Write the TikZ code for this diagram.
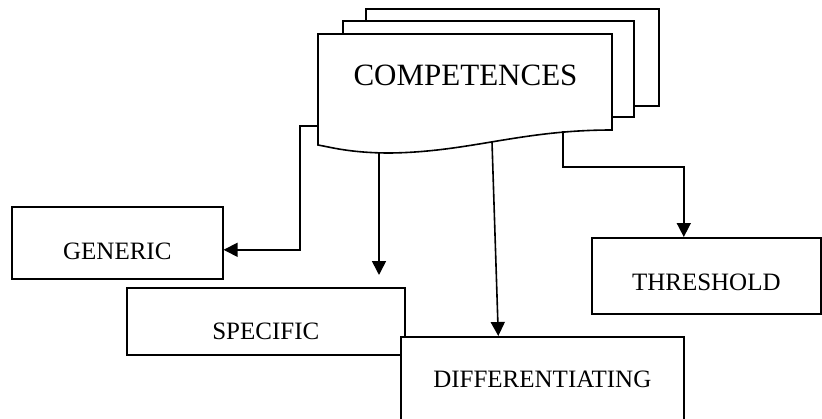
\documentclass[tikz,border=0pt]{standalone}
\usepackage{fontspec}
\setmainfont{Liberation Serif}
\usepackage{tikz}
\usetikzlibrary{arrows.meta, calc}

\tikzset{
    box/.style={draw, line width=1.6pt, fill=white, inner sep=0pt, anchor=north west,
        font=\fontsize{25}{30}\selectfont},
    doc/.style={draw, line width=1.6pt, fill=white},
    arr/.style={line width=1.6pt, -{Triangle[width=14pt, length=14pt]}}
}

\begin{document}
\begin{tikzpicture}[x=1pt, y=-1pt]
        \clip (0,0) rectangle (822,418);
        \fill[white] (0,0) rectangle (822,418);

        % Stacked documents
        \draw[doc] (366,9) rectangle (659,106);
        \draw[doc] (343,21) rectangle (634,117);
        \draw[doc] (318,34) -- (612,34) -- (612,130)
            .. controls (520,130) and (470,152) .. (390,153)
            .. controls (350,153) and (330,147) .. (318,145) -- cycle;
        \node[font=\fontsize{31}{36}\selectfont, anchor=base] (comp) at (465.5,85) {COMPETENCES};

        \coordinate (c-gen) at (318,126);
        \coordinate (c-spec) at (379,152);
        \coordinate (c-diff) at (492,142);
        \coordinate (c-thr) at (563,131);
        \coordinate (spec-tip) at (379,275);

        % Nodes
        \node[box, minimum width=211pt, text height=52.3pt, text depth=19.7pt] (gen) at (11,206) {GENERIC};
        \node[box, minimum width=278pt, text height=51.3pt, text depth=15.7pt] (spec) at (126,287) {SPECIFIC};
        \node[box, minimum width=283pt, text height=50.7pt, text depth=49.3pt] (diff) at (400,336) {DIFFERENTIATING};
        \node[box, minimum width=229pt, text height=52.3pt, text depth=23.7pt] (thr) at (591,237) {THRESHOLD};

        \draw[arr] (c-gen) -- ++(-18,0) |- ([yshift=-7pt]gen.east);
        \draw[arr] (c-spec) -- (spec-tip);
        \draw[arr] (c-diff) -- ([xshift=-44pt]diff.north);
        \draw[arr] (c-thr) -- ++(0,36) -| ([xshift=-22.5pt]thr.north);
    \end{tikzpicture}
\end{document}
